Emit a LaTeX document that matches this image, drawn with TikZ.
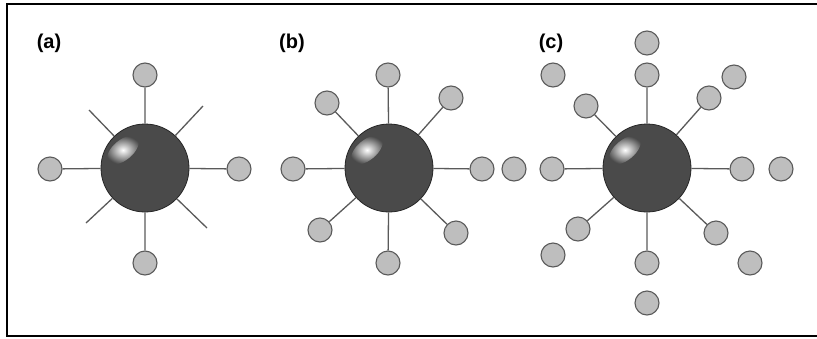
\documentclass[tikz,border=0pt]{standalone}
\usepackage{fontspec}
\setmainfont{Liberation Sans}
\usepackage{tikz}
\usepackage{xcolor}
\definecolor{coregray}{HTML}{4A4A4A}
\definecolor{ligfill}{HTML}{BEBEBE}
\definecolor{bondgray}{HTML}{5A5A5A}

\begin{document}
\begin{tikzpicture}[x=1pt,y=-1pt,
  core/.style={circle,minimum size=88pt,inner sep=0pt,draw=black!85,line width=0.8pt,fill=coregray},
  shine/.style={inner color=white,outer color=coregray,shift={(#1)},shift={(-22pt,18pt)},rotate=40},
  lig/.style={circle,minimum size=24pt,inner sep=0pt,draw=bondgray,line width=1.1pt,fill=ligfill},
  bond/.style={draw=bondgray,line width=1.3pt},
  panel/.style={font=\fontsize{20}{22}\selectfont\bfseries}]
\useasboundingbox (0,0) rectangle (817,338);
\draw[line width=2pt] (817,4)--(7,4)--(7,336)--(817,336);
% (a)
\node[panel] (la) at (49,43) {(a)};
\node[lig] (a1) at (145,75) {};
\node[lig] (a2) at (50,169) {};
\node[lig] (a3) at (239,169) {};
\node[lig] (a4) at (145,263) {};
\coordinate (a5) at (89,110);
\coordinate (a6) at (203,106);
\coordinate (a7) at (86,223);
\coordinate (a8) at (207,228);
\node[core] (ca) at (145,168) {};
\shade[shine=ca] (0,0) ellipse (19pt and 10pt);
\draw[bond] (ca)--(a1) (ca)--(a2) (ca)--(a3) (ca)--(a4);
\draw[bond] (ca)--(a5) (ca)--(a6) (ca)--(a7) (ca)--(a8);
% (b)
\node[panel] (lb) at (292,43) {(b)};
\node[lig] (b1) at (388,75) {};
\node[lig] (b2) at (327,103) {};
\node[lig] (b3) at (451,98) {};
\node[lig] (b4) at (293,169) {};
\node[lig] (b5) at (482,169) {};
\node[lig] (b6) at (514,169) {};
\node[lig] (b7) at (320,230) {};
\node[lig] (b8) at (456,233) {};
\node[lig] (b9) at (388,263) {};
\node[core] (cb) at (389,168) {};
\shade[shine=cb] (0,0) ellipse (19pt and 10pt);
\draw[bond] (cb)--(b1) (cb)--(b2) (cb)--(b3) (cb)--(b4);
\draw[bond] (cb)--(b5) (cb)--(b7) (cb)--(b8) (cb)--(b9);
% (c)
\node[panel] (lc) at (551,43) {(c)};
\node[lig] (c1) at (647,75) {};
\node[lig] (c2) at (586,106) {};
\node[lig] (c3) at (709,98) {};
\node[lig] (c4) at (552,169) {};
\node[lig] (c5) at (742,169) {};
\node[lig] (c6) at (578,229) {};
\node[lig] (c7) at (716,233) {};
\node[lig] (c8) at (647,263) {};
\node[lig] (f1) at (647,43) {};
\node[lig] (f2) at (553,75) {};
\node[lig] (f3) at (734,77) {};
\node[lig] (f4) at (781,169) {};
\node[lig] (f5) at (553,255) {};
\node[lig] (f6) at (750,263) {};
\node[lig] (f7) at (647,303) {};
\node[core] (cc) at (647,168) {};
\shade[shine=cc] (0,0) ellipse (19pt and 10pt);
\draw[bond] (cc)--(c1) (cc)--(c2) (cc)--(c3) (cc)--(c4);
\draw[bond] (cc)--(c5) (cc)--(c6) (cc)--(c7) (cc)--(c8);
\end{tikzpicture}
\end{document}
